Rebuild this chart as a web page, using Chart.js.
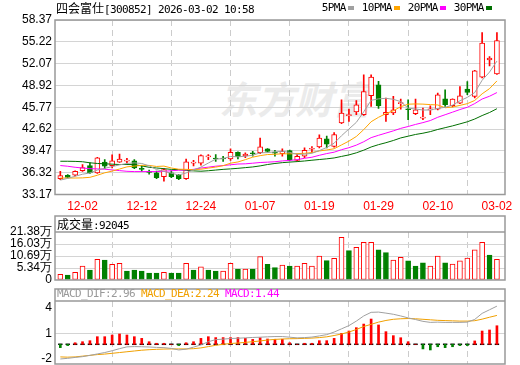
<!DOCTYPE html>
<html>
<head>
<meta charset="utf-8">
<script src="https://cdn.jsdelivr.net/npm/chart.js@4.4.1/dist/chart.umd.min.js"></script>
<style>
html,body{margin:0;padding:0;background:#fff;}
#wrap{position:relative;width:520px;height:365px;overflow:hidden;background:#fff;}
canvas{position:absolute;left:0;z-index:2;}
.t{position:absolute;z-index:3;white-space:nowrap;font-family:"DejaVu Sans Mono","Liberation Mono",monospace;font-size:11px;letter-spacing:-0.62px;line-height:12px;color:#000;}
.c{font-family:"Noto Sans CJK SC",sans-serif;font-size:12px;letter-spacing:0;}
.sw{display:inline-block;width:6px;height:4px;margin:0 7.5px 0 2.5px;vertical-align:1px;}
#wm{position:absolute;z-index:1;left:219px;top:76px;font-family:"Noto Sans CJK SC",sans-serif;font-weight:700;font-size:38px;line-height:44px;color:#ebebeb;font-style:italic;white-space:nowrap;}
</style>
</head>
<body>
<div id="wrap">
  <div id="wm">东方财富</div>
  <div class="t" style="left:56px;top:2px;"><span class="c">四会富仕</span>[300852] 2026-03-02 10:58</div>
  <div class="t" style="left:321.7px;top:2px;">5PMA<span class="sw" style="background:#a0a0a0"></span>10PMA<span class="sw" style="background:#ffa500"></span>20PMA<span class="sw" style="background:#ff00ff"></span>30PMA<span class="sw" style="background:#006f00"></span></div>
  <div class="t" style="left:57px;top:218px;"><span class="c">成交量</span>:92045</div>
  <div class="t" style="left:57px;top:288px;"><span style="color:#999">MACD_DIF:2.96 </span><span style="color:#f0a000">MACD_DEA:2.24 </span><span style="color:#ff00ff">MACD:1.44</span></div>
  <canvas id="c1" width="520" height="215" style="top:0"></canvas>
  <canvas id="c2" width="520" height="80" style="top:215px"></canvas>
  <canvas id="c3" width="520" height="90" style="top:285px"></canvas>
</div>
<script>
// ---------------- data ----------------
const dates = ['11-27','11-28','12-01','12-02','12-03','12-04','12-05','12-08','12-09','12-10','12-11','12-12',
 '12-15','12-16','12-17','12-18','12-19','12-22','12-23','12-24','12-25','12-26','12-29','12-30','12-31',
 '01-05','01-06','01-07','01-08','01-09','01-12','01-13','01-14','01-15','01-16','01-19','01-20','01-21',
 '01-22','01-23','01-26','01-27','01-28','01-29','01-30','02-02','02-03','02-04','02-05','02-06','02-09',
 '02-10','02-11','02-12','02-13','02-24','02-25','02-26','02-27','03-02'];
const shownDates = ['12-02','12-12','12-24','01-07','01-19','01-29','02-10','03-02'];
const priceTicks = [33.17,36.32,39.47,42.62,45.77,48.92,52.07,55.22,58.37];

const opens  = [35.45,35.95,35.95,36.6,37.35,36.3,37.85,37.35,37.85,38.0,38.05,36.95,36.5,36.3,35.75,36.3,35.95,35.45,37.7,37.7,
 38.6,38.35,38.35,38.3,39.25,38.75,39.2,39.2,39.75,39.2,39.05,39.5,38.1,38.7,39.7,40.05,41.2,40.13,43.5,44.55,
 45.08,44.69,47.43,49.0,44.69,44.94,46.3,45.48,44.83,44.2,45.38,45.51,46.99,45.99,46.37,48.39,47.33,50.12,52.61,50.6];
const highs  = [36.5,36.05,36.6,37.5,37.73,38.55,38.2,38.9,39.0,38.4,38.2,37.3,36.7,36.55,36.9,36.6,36.1,38.3,38.1,38.9,
 38.95,38.95,38.7,39.75,39.35,39.2,39.4,41.3,39.8,39.55,39.75,39.6,39.0,39.9,40.1,41.8,41.6,42.1,46.85,45.5,
 46.75,50.45,50.45,49.5,47.1,47.33,46.95,46.85,46.95,45.66,45.99,47.82,48.29,47.0,48.77,49.49,51.1,56.54,53.09,56.54];
const lows   = [35.3,35.55,35.85,36.5,36.2,36.2,36.9,37.0,37.8,37.7,36.9,36.5,36.1,35.45,35.1,35.6,35.3,35.35,37.3,37.4,
 38.2,37.95,37.95,38.1,38.3,38.5,38.7,39.05,39.3,38.7,38.7,38.05,38.0,38.5,39.2,39.9,39.9,40.0,43.4,43.73,
 44.69,44.6,45.89,45.6,43.73,44.69,45.5,43.97,44.69,43.97,44.69,45.4,45.89,45.8,46.27,47.57,47.1,50.0,51.75,50.5];
const closes = [35.9,35.65,36.5,37.05,36.3,38.45,37.25,38.05,38.3,38.1,37.0,36.8,36.35,35.6,36.77,35.75,35.45,37.88,37.75,38.8,
 38.65,38.3,38.3,39.25,38.6,39.0,39.05,40.05,39.4,39.15,39.4,38.2,38.7,39.55,39.75,41.33,40.45,41.83,44.94,44.62,
 46.13,48.05,50.12,46.0,45.02,45.41,46.37,45.41,45.41,44.25,45.43,47.57,46.13,46.95,47.43,47.9,51.03,55.02,52.86,55.39];

const ma5  = [35.25,35.5,35.8,36.1,36.28,36.7,36.95,37.2,37.45,37.65,37.74,37.65,37.31,36.77,36.5,36.25,35.98,36.29,36.72,37.13,
 37.71,38.28,38.36,38.66,38.62,38.69,38.84,39.19,39.22,39.33,39.41,39.24,38.97,39.0,39.12,39.51,39.96,40.58,41.66,42.63,
 43.59,45.11,46.77,46.98,47.06,46.92,46.58,45.64,45.52,45.37,45.37,45.61,45.76,46.07,46.7,47.2,47.89,49.67,50.85,52.44];
const ma10 = [35.55,35.55,35.55,35.57,35.65,35.95,36.3,36.55,36.85,37.16,37.27,37.38,37.37,37.22,37.27,37.0,36.82,36.8,36.75,36.82,
 36.98,37.13,37.33,37.69,37.87,38.2,38.56,38.78,38.94,38.98,39.05,39.04,39.08,39.11,39.23,39.46,39.6,39.78,40.33,40.88,
 41.55,42.54,43.68,44.32,44.85,45.26,45.85,46.21,46.25,46.22,46.15,46.1,45.7,45.8,46.04,46.29,46.75,47.71,48.46,49.57];
const ma20 = [37.35,37.25,37.1,37.0,36.9,36.87,36.82,36.72,36.62,36.52,36.48,36.48,36.48,36.48,36.52,36.6,36.67,36.72,36.8,36.99,
 37.12,37.26,37.35,37.46,37.57,37.6,37.69,37.79,37.84,37.9,38.02,38.09,38.2,38.4,38.55,38.83,39.08,39.28,39.64,39.93,
 40.3,40.79,41.38,41.72,42.04,42.36,42.72,42.99,43.29,43.55,43.85,44.32,44.69,45.06,45.44,45.77,46.3,46.96,47.36,47.89];
const ma30 = [37.97,37.97,37.95,37.9,37.75,37.65,37.6,37.55,37.5,37.5,37.48,37.3,37.1,37.0,36.9,36.8,36.77,36.65,36.58,36.53,
 36.6,36.7,36.8,36.87,36.95,37.05,37.15,37.3,37.5,37.65,37.77,37.85,37.92,38.01,38.12,38.22,38.32,38.45,38.67,38.89,
 39.19,39.57,40.03,40.37,40.65,40.97,41.34,41.59,41.84,42.02,42.25,42.56,42.82,43.08,43.37,43.67,44.07,44.57,45.01,45.56];

const volumes = [2.5,2.2,3.4,6.2,4.45,9.2,8.9,7.0,7.4,4.0,4.45,4.0,3.1,3.1,3.4,3.1,3.1,7.4,4.45,5.9,
 4.45,4.0,4.0,7.4,4.9,4.9,4.9,10.4,7.0,5.5,6.7,6.2,6.2,7.4,6.2,10.7,8.6,9.7,19.0,13.1,
 14.6,16.8,16.8,13.4,12.2,8.9,10.1,8.5,6.2,7.6,6.2,10.7,7.6,7.1,8.5,9.8,13.4,16.8,11.1,9.2];
const volUp = [1,0,1,1,0,1,0,1,1,0,0,0,0,0,1,0,0,1,0,1,0,0,1,1,0,1,0,1,0,0,
 1,0,1,1,1,1,0,1,1,0,1,1,1,0,0,1,1,0,0,0,1,1,0,1,1,1,1,1,0,1];
const volTicks = [0,5.345,10.69,16.035,21.38];
const volTickLabels = ['0','5.34万','10.69万','16.03万','21.38万'];

const dif = [-1.14,-1.09,-1.02,-0.96,-0.86,-0.75,-0.64,-0.5,-0.34,-0.2,-0.18,-0.19,-0.21,-0.24,-0.26,-0.32,-0.44,-0.38,-0.22,-0.05,
 0.2,0.36,0.4,0.45,0.47,0.5,0.53,0.55,0.58,0.6,0.6,0.55,0.5,0.52,0.56,0.65,0.75,0.95,1.2,1.45,
 1.8,2.2,2.48,2.5,2.42,2.33,2.2,2.05,1.92,1.78,1.7,1.72,1.7,1.7,1.7,1.72,1.93,2.4,2.68,2.96];
const dea = [-0.98,-1.0,-0.98,-0.92,-0.86,-0.8,-0.76,-0.7,-0.64,-0.58,-0.52,-0.46,-0.42,-0.39,-0.37,-0.36,-0.36,-0.36,-0.34,-0.28,
 -0.18,-0.08,0.0,0.06,0.1,0.15,0.2,0.26,0.33,0.38,0.41,0.43,0.44,0.46,0.48,0.52,0.58,0.68,0.8,0.95,
 1.15,1.38,1.55,1.72,1.85,1.94,1.98,2.0,1.98,1.94,1.9,1.86,1.84,1.82,1.8,1.8,1.83,1.95,2.1,2.24];
const macd = [-0.26,-0.1,0.12,0.2,0.28,0.59,0.59,0.72,0.8,0.72,0.59,0.46,0.2,0.08,0.08,0.0,-0.1,0.12,0.2,0.46,
 0.59,0.52,0.52,0.52,0.52,0.46,0.38,0.51,0.41,0.39,0.39,0.12,0.0,0.08,0.08,0.28,0.28,0.46,0.85,1.03,
 1.29,1.57,1.96,1.5,0.98,0.67,0.51,0.2,0.0,-0.36,-0.44,-0.19,-0.26,-0.19,-0.1,-0.1,0.26,1.03,1.11,1.44];
const macdTickValues = [-1.09,0.86,2.84];
const macdTickLabels = ['-2','1','4'];

// ---------------- styling / layout ----------------
const RED = '#ff0000', GREEN = '#008000';
const xMin = -0.72, xMax = 60.09;
const tickIdx = shownDates.map(d => dates.indexOf(d));
const FONT = {family:'"Liberation Sans", Arial, sans-serif', size:12};

function xAxis(showLabels, h){
  return {
    type:'linear', min:xMin, max:xMax, offset:false,
    afterBuildTicks: s => { s.ticks = tickIdx.map(v => ({value:v})); },
    afterFit: s => { s.height = h; },
    grid:{color:'#cccccc', lineWidth:1, drawTicks:false},
    border:{display:false, dash:[6,4]},
    ticks:{display:showLabels, autoSkip:false, maxRotation:0, padding:5, color:RED, font:FONT,
      callback: v => dates[v]}
  };
}
function yAxis(min, max, vals, labelFn, gridFn){
  return {
    min, max,
    afterBuildTicks: s => { s.ticks = vals.map(v => ({value:v})); },
    afterFit: s => { s.width = 55; },
    grid:{color:gridFn, lineWidth:1, drawTicks:false},
    border:{display:false},
    ticks:{autoSkip:false, padding:3, color:'#000', font:FONT, callback:labelFn}
  };
}
function boxPlugin(topY){
  return {
    id:'box',
    afterDraw(chart){
      const {ctx, chartArea:a} = chart;
      ctx.save();
      ctx.strokeStyle = '#999'; ctx.lineWidth = 1.5;
      const top = topY == null ? a.top : topY;
      ctx.strokeRect(a.left, top, a.right - a.left, a.bottom - top);
      if (topY != null){ ctx.beginPath(); ctx.moveTo(a.left, a.top); ctx.lineTo(a.right, a.top); ctx.stroke(); }
      ctx.restore();
    }
  };
}
const baseOpts = (pad) => ({
  responsive:false, animation:false, events:[],
  layout:{padding:pad},
  plugins:{legend:{display:false}, tooltip:{enabled:false}, title:{display:false}}
});
const upC = i => closes[i] >= opens[i];
const lineDs = (arr, color, order) => ({type:'line', data:arr.map((v,i)=>({x:i,y:v})), borderColor:color,
  borderWidth:1, pointRadius:0, tension:0, order});

// ---------------- main price chart ----------------
new Chart(document.getElementById('c1'), {
  type:'bar',
  data:{datasets:[
    lineDs(ma5,'#a0a0a0',0), lineDs(ma10,'#ffa500',0), lineDs(ma20,'#ff00ff',0), lineDs(ma30,'#006f00',0),
    {data:opens.map((o,i)=>({x:i,y:[o,closes[i]]})),
     backgroundColor: c => c.dataIndex == null ? '#fff' : (upC(c.dataIndex) ? '#ffffff' : GREEN),
     borderColor: c => c.dataIndex == null ? RED : (upC(c.dataIndex) ? RED : GREEN),
     borderWidth:1, borderSkipped:false, barThickness:5, grouped:false, minBarLength:1, order:1},
    {data:lows.map((l,i)=>({x:i,y:[l,highs[i]]})),
     backgroundColor: c => c.dataIndex == null ? RED : (upC(c.dataIndex) ? RED : GREEN),
     borderWidth:0, barThickness:1, grouped:false, order:2}
  ]},
  options:Object.assign(baseOpts({left:0,right:15,top:20,bottom:0}), {
    scales:{ x:xAxis(true,20.5), y:yAxis(33.17,58.37,priceTicks,v=>v.toFixed(2),()=>'#d4d4d4') }
  }),
  plugins:[boxPlugin(null)]
});

// ---------------- volume chart ----------------
new Chart(document.getElementById('c2'), {
  type:'bar',
  data:{datasets:[
    {data:volumes.map((v,i)=>({x:i,y:v})),
     backgroundColor: c => c.dataIndex == null ? '#fff' : (volUp[c.dataIndex] ? '#ffffff' : GREEN),
     borderColor: c => c.dataIndex == null ? RED : (volUp[c.dataIndex] ? RED : GREEN),
     borderWidth:1, borderSkipped:false, barThickness:5, grouped:false}
  ]},
  options:Object.assign(baseOpts({left:0,right:15,top:17,bottom:0}), {
    scales:{ x:xAxis(false,15),
      y:yAxis(0,21.38,volTicks,(v,i)=>volTickLabels[i],
        c => (c.index === 0 || c.index === volTicks.length-1) ? 'rgba(0,0,0,0)' : '#d4d4d4') }
  }),
  plugins:[boxPlugin(1)]
});

// ---------------- MACD chart ----------------
const zeroDash = {
  id:'zeroDash',
  beforeDatasetsDraw(chart){
    const x = chart.scales.x, y = chart.scales.y, ctx = chart.ctx;
    const py = y.getPixelForValue(0);
    ctx.save(); ctx.fillStyle = '#000';
    macd.forEach((v,i) => { const px = x.getPixelForValue(i); ctx.fillRect(px-2.2, py-0.75, 4.4, 1.5); });
    ctx.restore();
  }
};
new Chart(document.getElementById('c3'), {
  type:'bar',
  data:{datasets:[
    lineDs(dif,'#a0a0a0',0), lineDs(dea,'#f0a000',0),
    {data:macd.map((v,i)=>({x:i,y:v})),
     backgroundColor: c => c.dataIndex == null ? RED : (macd[c.dataIndex] >= 0 ? RED : GREEN),
     borderWidth:0, barThickness:2, grouped:false, order:1}
  ]},
  options:Object.assign(baseOpts({left:0,right:15,top:16,bottom:0}), {
    scales:{ x:xAxis(false,11),
      y:yAxis(-1.53,3.36,macdTickValues,(v,i)=>macdTickLabels[i],
        c => macdTickLabels[c.index] === '1' ? '#d4d4d4' : 'rgba(0,0,0,0)') }
  }),
  plugins:[boxPlugin(4), zeroDash]
});
</script>
</body>
</html>
